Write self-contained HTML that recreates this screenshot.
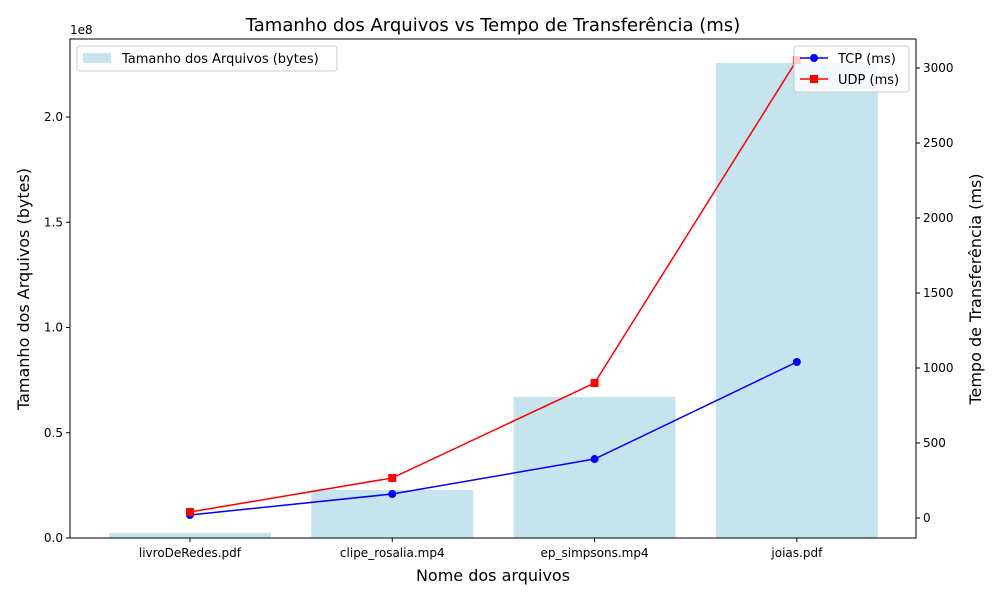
<!DOCTYPE html>
<html><head><meta charset="utf-8"><style>
body{margin:0;background:#fff;font-family:"Liberation Sans","DejaVu Sans",sans-serif}
svg text{font-family:"DejaVu Sans","Liberation Sans",sans-serif}
</style></head><body>
<svg id="chart" width="1000" height="600" xmlns="http://www.w3.org/2000/svg"></svg>
<script>
const categories=["livroDeRedes.pdf","clipe_rosalia.mp4","ep_simpsons.mp4","joias.pdf"];
const sizes=[2.4e6,22.8e6,67.0e6,225.7e6];
const tcp=[20,160,393,1040];
const udp=[40,267,900,3053];
const leftTicks=[0,0.5,1.0,1.5,2.0];
const rightTicks=[0,500,1000,1500,2000,2500,3000];

const L=70,R=916,T=39,B=538;
const NS="http://www.w3.org/2000/svg";
const svg=document.getElementById('chart');
function el(tag,attrs,txt){const e=document.createElementNS(NS,tag);for(const k in attrs)e.setAttribute(k,attrs[k]);if(txt!==undefined)e.textContent=txt;svg.appendChild(e);return e;}
const xs=i=>L+(i+0.593)*202.3;
const yL=v=>B-v/0.5e8*105.25;
const yR=v=>518-v*0.15;

// bars
categories.forEach((c,i)=>{
  const b=el('rect',{x:xs(i)-81,y:yL(sizes[i]),width:162,height:B-yL(sizes[i]),fill:'#add8e6','fill-opacity':0.7});
  
  
});
// lines
function series(vals,color,marker,name){
  const pts=vals.map((v,i)=>xs(i)+','+yR(v)).join(' ');
  const p=el('polyline',{points:pts,fill:'none',stroke:color,'stroke-width':1.5});
  
  
  vals.forEach((v,i)=>{
    let m;
    if(marker==='o')m=el('circle',{cx:xs(i),cy:yR(v),r:4,fill:color});
    else m=el('rect',{x:xs(i)-4,y:yR(v)-4,width:8,height:8,fill:color});
    
    
  });
}
series(tcp,'#0000ff','o','tcp');
series(udp,'#ff0000','s','udp');

// axes frame
const f=el('rect',{x:L,y:T,width:R-L,height:B-T,fill:'none',stroke:'#000','stroke-width':1});



categories.forEach((c,i)=>{
  el('line',{x1:xs(i),x2:xs(i),y1:B,y2:B+4,stroke:'#000'});
  const t=el('text',{x:xs(i),y:B+19,'text-anchor':'middle','font-size':12},c);
  
  
});
leftTicks.forEach(v=>{
  const y=yL(v*1e8);
  el('line',{x1:L-4,x2:L,y1:y,y2:y,stroke:'#000'});
  const t=el('text',{x:L-7,y:y+4,'text-anchor':'end','font-size':12},v.toFixed(1));
  
  
});
rightTicks.forEach(v=>{
  const y=yR(v);
  el('line',{x1:R,x2:R+4,y1:y,y2:y,stroke:'#000'});
  const t=el('text',{x:R+7,y:y+4,'font-size':12},v);
  
  
});
</script>
<svg width="1000" height="600" style="position:absolute;left:0;top:0" xmlns="http://www.w3.org/2000/svg">
<text x="70" y="34" font-size="12">1e8</text>
<text x="493" y="31" font-size="18" text-anchor="middle">Tamanho dos Arquivos vs Tempo de Transferência (ms)</text>
<text x="493" y="581" font-size="16" text-anchor="middle">Nome dos arquivos</text>
<text x="29" y="289" font-size="16" text-anchor="middle" transform="rotate(-90 29 289)">Tamanho dos Arquivos (bytes)</text>
<text x="981" y="289" font-size="16" text-anchor="middle" transform="rotate(-90 981 289)">Tempo de Transferência (ms)</text>
<g>
<rect x="77" y="46" width="260" height="25" rx="3" fill="#fff" fill-opacity="0.8" stroke="#ccc"/>
<rect x="83" y="53" width="28" height="10" fill="#add8e6" fill-opacity="0.7"/>
<text x="122" y="63" font-size="13">Tamanho dos Arquivos (bytes)</text>
</g>
<g>
<rect x="794" y="46" width="115" height="46" rx="3" fill="#fff" fill-opacity="0.8" stroke="#ccc"/>
<line x1="800" x2="828" y1="58" y2="58" stroke="#0000ff" stroke-width="1.5"/><circle cx="814" cy="58" r="4" fill="#0000ff"/>
<text x="838" y="63" font-size="13">TCP (ms)</text>
<line x1="800" x2="828" y1="79" y2="79" stroke="#ff0000" stroke-width="1.5"/><rect x="810" y="75" width="8" height="8" fill="#ff0000"/>
<text x="838" y="84" font-size="13">UDP (ms)</text>
</g>
</svg>
</body></html>
